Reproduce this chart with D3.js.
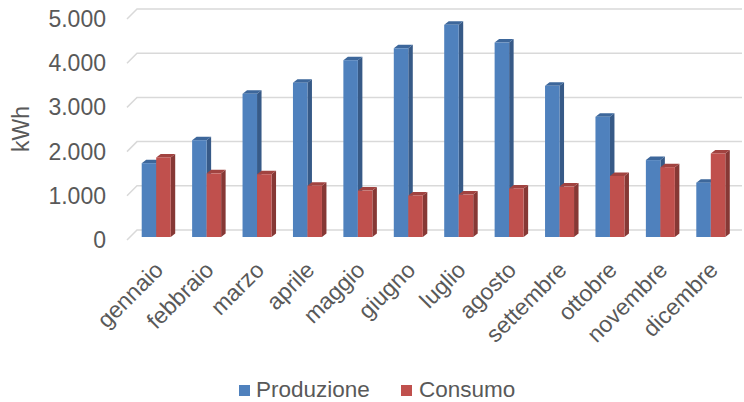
<!DOCTYPE html>
<html>
<head>
<meta charset="utf-8">
<script src="https://cdn.jsdelivr.net/npm/d3@7"></script>
<style>
  body { margin: 0; background: #fff; }
  text { font-family: "Liberation Sans", Arial, sans-serif; fill: #595959; }
</style>
</head>
<body>
<svg></svg>
<script>
const width = 744, height = 402;
const svg = d3.select("svg").attr("width", width).attr("height", height);

// Data
const months = ["gennaio", "febbraio", "marzo", "aprile", "maggio", "giugno",
                "luglio", "agosto", "settembre", "ottobre", "novembre", "dicembre"];
const produzione = [1670, 2190, 3240, 3490, 4000, 4270, 4800, 4400, 3420, 2720, 1740, 1230];
const consumo = [1800, 1440, 1420, 1160, 1050, 940, 960, 1100, 1140, 1380, 1580, 1890];
const yTicks = [0, 1000, 2000, 3000, 4000, 5000];
const seriesNames = ["Produzione", "Consumo"];

const colors = [
    { front: "#4f81bd", side: "#375a87", top: "#3d679b" },
    { front: "#c0504d", side: "#863835", top: "#a14340" }
];

// Scales
const x = d3.scaleBand().domain(months).range([131, 736]);
const y = d3.scaleLinear().domain([0, 5000]).range([240, 19]);
const fmt = v => d3.format(",")(v).replace(/,/g, ".");

const wall = { dx: 10, dy: -10 };   // back wall offset
const barDepth = { dx: 4.5, dy: -3.5 };
const barShift = -3;                // bars sit a little behind the front edge
const barW = 14.5;
const fontSize = "23px";

// Gridlines (floor diagonal + back wall line)
svg.append("g").selectAll("path")
    .data(yTicks)
    .enter().append("path")
    .attr("d", d => `M127,${y(d)} L${127 + wall.dx},${y(d) + wall.dy} L742,${y(d) + wall.dy}`)
    .attr("fill", "none")
    .attr("stroke", "#d9d9d9")
    .attr("stroke-width", 1.5);

// Y tick labels
svg.append("g").selectAll("text")
    .data(yTicks)
    .enter().append("text")
    .attr("x", 106)
    .attr("y", d => y(d))
    .attr("dy", "0.35em")
    .attr("text-anchor", "end")
    .attr("font-size", fontSize)
    .text(d => fmt(d));

// Axis title
svg.append("text")
    .attr("transform", "translate(29,129) rotate(-90)")
    .attr("text-anchor", "middle")
    .attr("font-size", fontSize)
    .text("kWh");

// Bars, drawn left to right so each covers the previous side face
const bars = [];
months.forEach((m, i) => {
    [produzione[i], consumo[i]].forEach((v, s) => {
        bars.push({ month: m, value: v, s: s });
    });
});

const barG = svg.append("g").selectAll("g")
    .data(bars)
    .enter().append("g");

function geom(d) {
    const cx = x(d.month) + x.bandwidth() / 2;
    const x0 = cx - barW + d.s * barW;
    const x1 = x0 + barW;
    const yb = y(0) + barShift;
    const yt = y(d.value) + barShift;
    return { x0, x1, yb, yt };
}

barG.append("path") // side face
    .attr("d", d => {
        const g = geom(d), o = barDepth;
        return `M${g.x1},${g.yb} L${g.x1 + o.dx},${g.yb + o.dy} L${g.x1 + o.dx},${g.yt + o.dy} L${g.x1},${g.yt} Z`;
    })
    .attr("fill", d => colors[d.s].side);

barG.append("path") // top face
    .attr("d", d => {
        const g = geom(d), o = barDepth;
        return `M${g.x0},${g.yt} L${g.x0 + o.dx},${g.yt + o.dy} L${g.x1 + o.dx},${g.yt + o.dy} L${g.x1},${g.yt} Z`;
    })
    .attr("fill", d => colors[d.s].top);

barG.append("rect") // front face
    .attr("x", d => geom(d).x0)
    .attr("y", d => geom(d).yt)
    .attr("width", barW)
    .attr("height", d => geom(d).yb - geom(d).yt)
    .attr("fill", d => colors[d.s].front);

// Category labels, rotated
svg.append("g").selectAll("text")
    .data(months)
    .enter().append("text")
    .attr("transform", d => `translate(${x(d) + x.bandwidth() / 2 - 3},${260}) rotate(-45)`)
    .attr("text-anchor", "end")
    .attr("dy", "0.7em")
    .attr("font-size", fontSize)
    .text(d => d);

// Legend
const legendPos = [{ x: 239, tx: 256 }, { x: 401, tx: 419 }];
const legend = svg.append("g").selectAll("g")
    .data(seriesNames)
    .enter().append("g");

legend.append("rect")
    .attr("x", (d, i) => legendPos[i].x)
    .attr("y", 385)
    .attr("width", 11)
    .attr("height", 11)
    .attr("fill", (d, i) => colors[i].front);

legend.append("text")
    .attr("x", (d, i) => legendPos[i].tx)
    .attr("y", 396.5)
    .attr("font-size", "22.5px")
    .text(d => d);
</script>
</body>
</html>
